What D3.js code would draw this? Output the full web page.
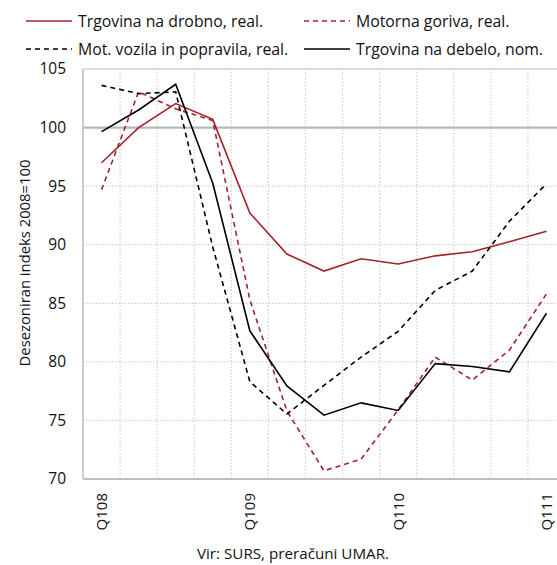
<!DOCTYPE html>
<html>
<head>
<meta charset="utf-8">
<script src="https://cdn.jsdelivr.net/npm/d3@7"></script>
<style>
  body { margin: 0; background: #fff; }
  svg { display: block; font-family: "Open Sans", sans-serif; }
</style>
</head>
<body>
<svg width="557" height="565"></svg>
<script>
// Quarters Q1 2008 .. Q1 2011
var QUARTERS = ["Q108", "Q208", "Q308", "Q408", "Q109", "Q209", "Q309", "Q409",
  "Q110", "Q210", "Q310", "Q410", "Q111"];
var TICK_LABELS = ["Q108", "Q109", "Q110", "Q111"];
var Y_TICKS = [70, 75, 80, 85, 90, 95, 100, 105];

var RETAIL = [97.0, 100.0, 102.05, 100.7, 92.7, 89.2, 87.75, 88.8, 88.35, 89.05, 89.4, 90.25, 91.15];
var FUELS = [94.7, 103.05, 101.6, 100.6, 85.3, 75.8, 70.7, 71.7, 75.9, 80.4, 78.45, 81.0, 85.8];
var VEHICLES = [103.6, 102.9, 103.05, 89.8, 78.3, 75.55, 78.0, 80.4, 82.6, 86.1, 87.75, 92.0, 95.2];
var WHOLESALE = [99.65, 101.5, 103.7, 95.25, 82.65, 77.95, 75.45, 76.5, 75.85, 79.85, 79.6, 79.15, 84.15];

var SERIES_NAMES = ["Trgovina na drobno, real.", "Motorna goriva, real.",
  "Mot. vozila in popravila, real.", "Trgovina na debelo, nom."];

var RED = "#a3222b";

var series = [
  { name: SERIES_NAMES[0], values: RETAIL, color: RED, dash: null },
  { name: SERIES_NAMES[1], values: FUELS, color: RED, dash: "5,4" },
  { name: SERIES_NAMES[2], values: VEHICLES, color: "#000", dash: "5,4" },
  { name: SERIES_NAMES[3], values: WHOLESALE, color: "#000", dash: null }
];

var svg = d3.select("svg"),
  margin = { top: 69, left: 83, bottom: 86 },
  plotRight = 565, // plot runs past the right edge of the picture
  height = 565 - margin.top - margin.bottom;

var xScale = d3.scaleBand().domain(QUARTERS).range([margin.left, plotRight]),
  yScale = d3.scaleLinear().domain([70, 105]).range([margin.top + height, margin.top]);

function xMid(q) { return xScale(q) + xScale.bandwidth() / 2; }

// vertical dotted grid at band edges
svg.append("g")
  .selectAll("line")
  .data(QUARTERS.slice(1))
  .enter()
  .append("line")
  .attr("x1", function (d) { return xScale(d); })
  .attr("x2", function (d) { return xScale(d); })
  .attr("y1", yScale(105))
  .attr("y2", yScale(70))
  .style("stroke", "#c8c8c8")
  .style("stroke-width", 1.2)
  .style("stroke-dasharray", "1.2,2");

// horizontal grid
svg.append("g")
  .selectAll("line")
  .data(Y_TICKS.filter(function (d) { return d > 70 && d < 100; }))
  .enter()
  .append("line")
  .attr("x1", margin.left)
  .attr("x2", plotRight)
  .attr("y1", function (d) { return yScale(d); })
  .attr("y2", function (d) { return yScale(d); })
  .style("stroke", "#c8c8c8")
  .style("stroke-width", 1.2)
  .style("stroke-dasharray", "1.2,2");

// 100 line, top line
svg.append("line")
  .attr("x1", margin.left).attr("x2", plotRight)
  .attr("y1", yScale(100)).attr("y2", yScale(100))
  .style("stroke", "#b8b8b8").style("stroke-width", 2.2);

svg.append("line")
  .attr("x1", margin.left).attr("x2", plotRight)
  .attr("y1", yScale(105)).attr("y2", yScale(105))
  .style("stroke", "#cfcfcf").style("stroke-width", 1.5);

// axes lines
svg.append("line")
  .attr("x1", margin.left).attr("x2", plotRight)
  .attr("y1", yScale(70)).attr("y2", yScale(70))
  .style("stroke", "#bdbdbd").style("stroke-width", 2);

svg.append("line")
  .attr("x1", margin.left).attr("x2", margin.left)
  .attr("y1", yScale(105)).attr("y2", yScale(70))
  .style("stroke", "#bdbdbd").style("stroke-width", 1.5);

// y tick labels
var yAxis = d3.axisLeft(yScale).tickValues(Y_TICKS).tickSize(0).tickPadding(17);
var gy = svg.append("g")
  .attr("transform", "translate(" + margin.left + ",0)")
  .call(yAxis);
gy.select(".domain").remove();
gy.selectAll("text")
  .style("font-family", "'Open Sans', sans-serif")
  .style("font-size", "15.5px")
  .style("fill", "#111");

// x tick labels, rotated
svg.append("g")
  .selectAll("text")
  .data(TICK_LABELS)
  .enter()
  .append("text")
  .attr("transform", function (d) {
    return "translate(" + (xMid(d) + 5.5) + "," + (yScale(70) + 14) + ")rotate(-90)";
  })
  .attr("text-anchor", "end")
  .style("font-size", "15px")
  .style("fill", "#111")
  .text(function (d) { return d; });

// lines
var line = d3.line()
  .x(function (d, i) { return xMid(QUARTERS[i]); })
  .y(function (d) { return yScale(d); });

svg.append("g")
  .selectAll("path")
  .data(series)
  .enter()
  .append("path")
  .attr("d", function (d) { return line(d.values); })
  .style("fill", "none")
  .style("stroke", function (d) { return d.color; })
  .style("stroke-width", 1.6)
  .style("stroke-dasharray", function (d) { return d.dash; });

// legend
var legendPos = [[26, 21], [304, 21], [26, 49], [304, 49]];
var legend = svg.append("g")
  .selectAll("g")
  .data(series)
  .enter()
  .append("g")
  .attr("transform", function (d, i) { return "translate(" + legendPos[i][0] + "," + legendPos[i][1] + ")"; });

legend.append("line")
  .attr("x1", 0).attr("x2", 46)
  .style("stroke", function (d) { return d.color; })
  .style("stroke-width", 1.6)
  .style("stroke-dasharray", function (d) { return d.dash; });

legend.append("text")
  .attr("x", 52)
  .attr("dy", "0.35em")
  .style("font-size", "15.8px")
  .style("fill", "#111")
  .text(function (d) { return d.name; });

// y title
svg.append("text")
  .attr("text-anchor", "middle")
  .attr("transform", "translate(25,263)rotate(-90)")
  .attr("dy", "0.35em")
  .style("font-size", "14.8px")
  .style("fill", "#111")
  .text("Desezoniran indeks 2008=100");

// source
svg.append("text")
  .attr("x", 293)
  .attr("y", 554)
  .attr("text-anchor", "middle")
  .attr("dy", "0.35em")
  .style("font-size", "15.2px")
  .style("fill", "#111")
  .text("Vir: SURS, preračuni UMAR.");
</script>
</body>
</html>
